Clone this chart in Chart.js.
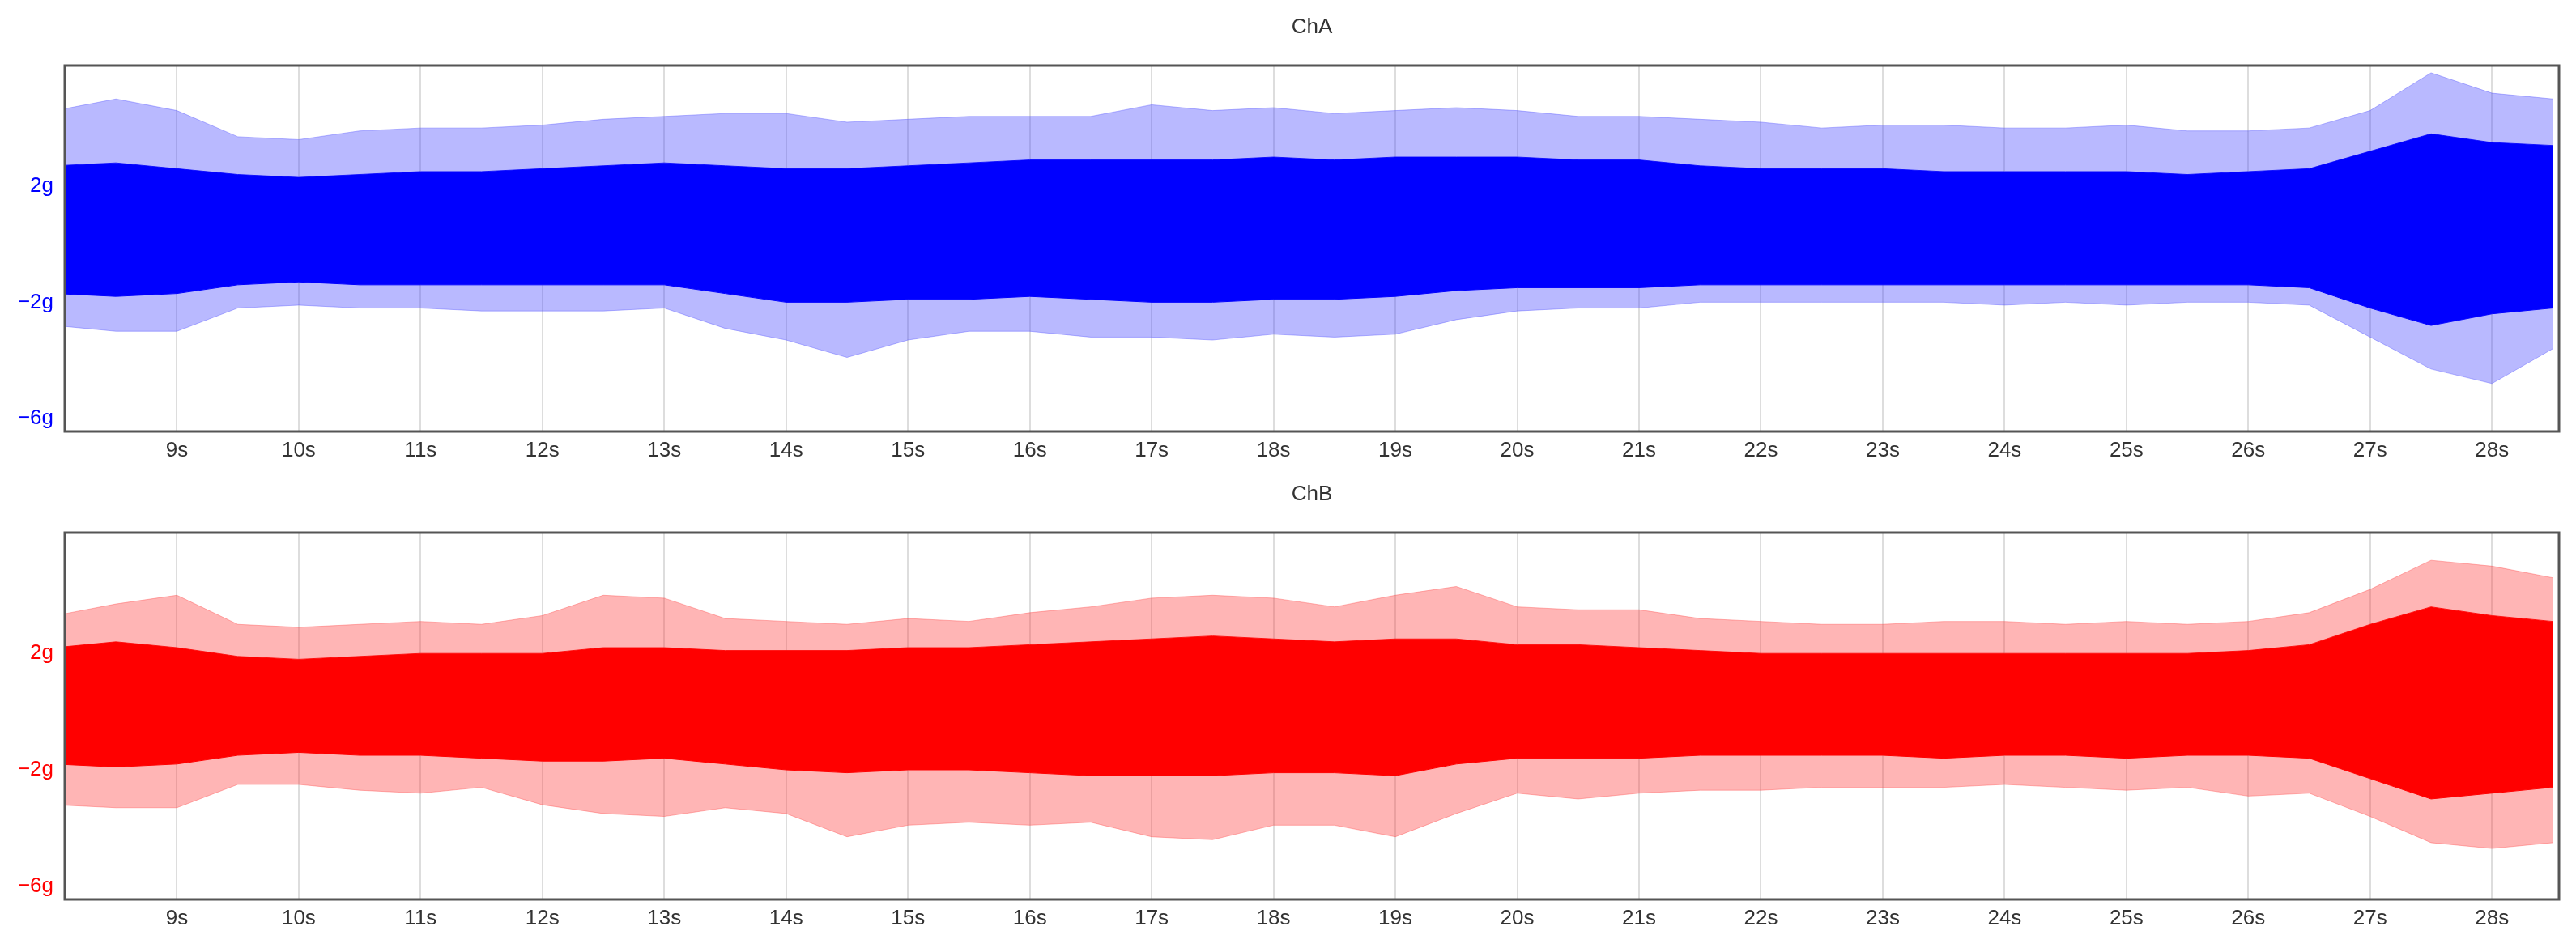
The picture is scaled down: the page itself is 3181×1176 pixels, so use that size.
<!DOCTYPE html>
<html>
<head>
<meta charset="utf-8">
<script src="https://cdn.jsdelivr.net/npm/chart.js@4.4.1/dist/chart.umd.min.js"></script>
<style>
  body{margin:0;background:#fff;width:3181px;height:1176px;overflow:hidden}
  .p{position:absolute;left:0;width:3181px;height:588px}
</style>
</head>
<body>
<div class="p" style="top:0"><canvas id="chA"></canvas></div>
<div class="p" style="top:588px"><canvas id="chB"></canvas></div>
<script>
// envelope of the signal, sampled every 0.5 s (values in g)
const times = [8.0,8.5,9.0,9.5,10.0,10.5,11.0,11.5,12.0,12.5,13.0,13.5,14.0,14.5,15.0,15.5,16.0,16.5,17.0,17.5,18.0,18.5,19.0,19.5,20.0,20.5,21.0,21.5,22.0,22.5,23.0,23.5,24.0,24.5,25.0,25.5,26.0,26.5,27.0,27.5,28.0,28.5];

const aPeakUp = [4.6,5.0,4.6,3.7,3.6,3.9,4.0,4.0,4.1,4.3,4.4,4.5,4.5,4.2,4.3,4.4,4.4,4.4,4.8,4.6,4.7,4.5,4.6,4.7,4.6,4.4,4.4,4.3,4.2,4.0,4.1,4.1,4.0,4.0,4.1,3.9,3.9,4.0,4.6,5.9,5.2,5.0];
const aCoreUp = [2.7,2.8,2.6,2.4,2.3,2.4,2.5,2.5,2.6,2.7,2.8,2.7,2.6,2.6,2.7,2.8,2.9,2.9,2.9,2.9,3.0,2.9,3.0,3.0,3.0,2.9,2.9,2.7,2.6,2.6,2.6,2.5,2.5,2.5,2.5,2.4,2.5,2.6,3.2,3.8,3.5,3.4];
const aCoreLo = [-1.7,-1.8,-1.7,-1.4,-1.3,-1.4,-1.4,-1.4,-1.4,-1.4,-1.4,-1.7,-2.0,-2.0,-1.9,-1.9,-1.8,-1.9,-2.0,-2.0,-1.9,-1.9,-1.8,-1.6,-1.5,-1.5,-1.5,-1.4,-1.4,-1.4,-1.4,-1.4,-1.4,-1.4,-1.4,-1.4,-1.4,-1.5,-2.2,-2.8,-2.4,-2.2];
const aPeakLo = [-2.8,-3.0,-3.0,-2.2,-2.1,-2.2,-2.2,-2.3,-2.3,-2.3,-2.2,-2.9,-3.3,-3.9,-3.3,-3.0,-3.0,-3.2,-3.2,-3.3,-3.1,-3.2,-3.1,-2.6,-2.3,-2.2,-2.2,-2.0,-2.0,-2.0,-2.0,-2.0,-2.1,-2.0,-2.1,-2.0,-2.0,-2.1,-3.2,-4.3,-4.8,-3.6];

const bPeakUp = [3.3,3.7,4.0,3.0,2.9,3.0,3.1,3.0,3.3,4.0,3.9,3.2,3.1,3.0,3.2,3.1,3.4,3.6,3.9,4.0,3.9,3.6,4.0,4.3,3.6,3.5,3.5,3.2,3.1,3.0,3.0,3.1,3.1,3.0,3.1,3.0,3.1,3.4,4.2,5.2,5.0,4.6];
const bCoreUp = [2.2,2.4,2.2,1.9,1.8,1.9,2.0,2.0,2.0,2.2,2.2,2.1,2.1,2.1,2.2,2.2,2.3,2.4,2.5,2.6,2.5,2.4,2.5,2.5,2.3,2.3,2.2,2.1,2.0,2.0,2.0,2.0,2.0,2.0,2.0,2.0,2.1,2.3,3.0,3.6,3.3,3.1];
const bCoreLo = [-1.8,-1.9,-1.8,-1.5,-1.4,-1.5,-1.5,-1.6,-1.7,-1.7,-1.6,-1.8,-2.0,-2.1,-2.0,-2.0,-2.1,-2.2,-2.2,-2.2,-2.1,-2.1,-2.2,-1.8,-1.6,-1.6,-1.6,-1.5,-1.5,-1.5,-1.5,-1.6,-1.5,-1.5,-1.6,-1.5,-1.5,-1.6,-2.3,-3.0,-2.8,-2.6];
const bPeakLo = [-3.2,-3.3,-3.3,-2.5,-2.5,-2.7,-2.8,-2.6,-3.2,-3.5,-3.6,-3.3,-3.5,-4.3,-3.9,-3.8,-3.9,-3.8,-4.3,-4.4,-3.9,-3.9,-4.3,-3.5,-2.8,-3.0,-2.8,-2.7,-2.7,-2.6,-2.6,-2.6,-2.5,-2.6,-2.7,-2.6,-2.9,-2.8,-3.6,-4.5,-4.7,-4.5];

const yTicks = [-6,-2,2];

const pts = arr => arr.map((v,i)=>({x:times[i], y:v}));

function makeChart(id, title, color, light, up, cu, cl, lo, top, xh){
  const titlePlugin = {
    id:'ttl',
    afterDraw(c){
      const ctx=c.ctx, a=c.chartArea;
      ctx.save();
      ctx.strokeStyle='#555'; ctx.lineWidth=3;
      ctx.strokeRect(a.left, a.top, a.right-a.left, a.bottom-a.top);
      ctx.fillStyle='#333'; ctx.font='26px "Liberation Sans", Arial';
      ctx.textAlign='center'; ctx.textBaseline='middle';
      ctx.fillText(title, (a.left+a.right)/2, top-47);
      ctx.restore();
    }
  };
  return new Chart(document.getElementById(id), {
    type:'line',
    data:{datasets:[
      {data:pts(up), borderColor:light, backgroundColor:light, borderWidth:1, fill:'+1'},
      {data:pts(cu), borderColor:color, backgroundColor:color, borderWidth:1, fill:'+1'},
      {data:pts(cl), borderColor:color, backgroundColor:light, borderWidth:1, fill:'+1'},
      {data:pts(lo), borderColor:light, borderWidth:1, fill:false}
    ]},
    options:{
      responsive:true, maintainAspectRatio:false, animation:false,
      layout:{padding:{top:top, right:21, left:0, bottom:0}},
      elements:{point:{radius:0}, line:{tension:0}},
      plugins:{legend:{display:false}, tooltip:{enabled:false}},
      scales:{
        x:{type:'linear', min:8.08, max:28.55,
          afterBuildTicks(s){ s.ticks = []; for(let t=9;t<=28;t++) s.ticks.push({value:t}); },
          afterFit(s){ s.height = xh; },
          grid:{color:'#dddddd', lineWidth:2, drawTicks:false},
          border:{display:false},
          ticks:{callback:v=>v+'s', color:'#333', font:{size:26, family:'"Liberation Sans", Arial'}, padding:8, maxRotation:0}
        },
        y:{min:-6.45, max:6.15,
          afterBuildTicks(s){ s.ticks = yTicks.map(v=>({value:v})); },
          afterFit(s){ s.width = 80; },
          grid:{display:false}, border:{display:false},
          ticks:{callback:v=>(v<0?'\u2212'+(-v):v)+'g', color:color, font:{size:26, family:'"Liberation Sans", Arial'}, padding:6}
        }
      }
    },
    plugins:[titlePlugin]
  });
}

makeChart('chA','ChA','#0000ff','rgba(80,80,255,0.4)', aPeakUp,aCoreUp,aCoreLo,aPeakLo, 81, 55);
makeChart('chB','ChB','#ff0000','rgba(255,70,70,0.4)', bPeakUp,bCoreUp,bCoreLo,bPeakLo, 70, 65);
</script>
</body>
</html>
